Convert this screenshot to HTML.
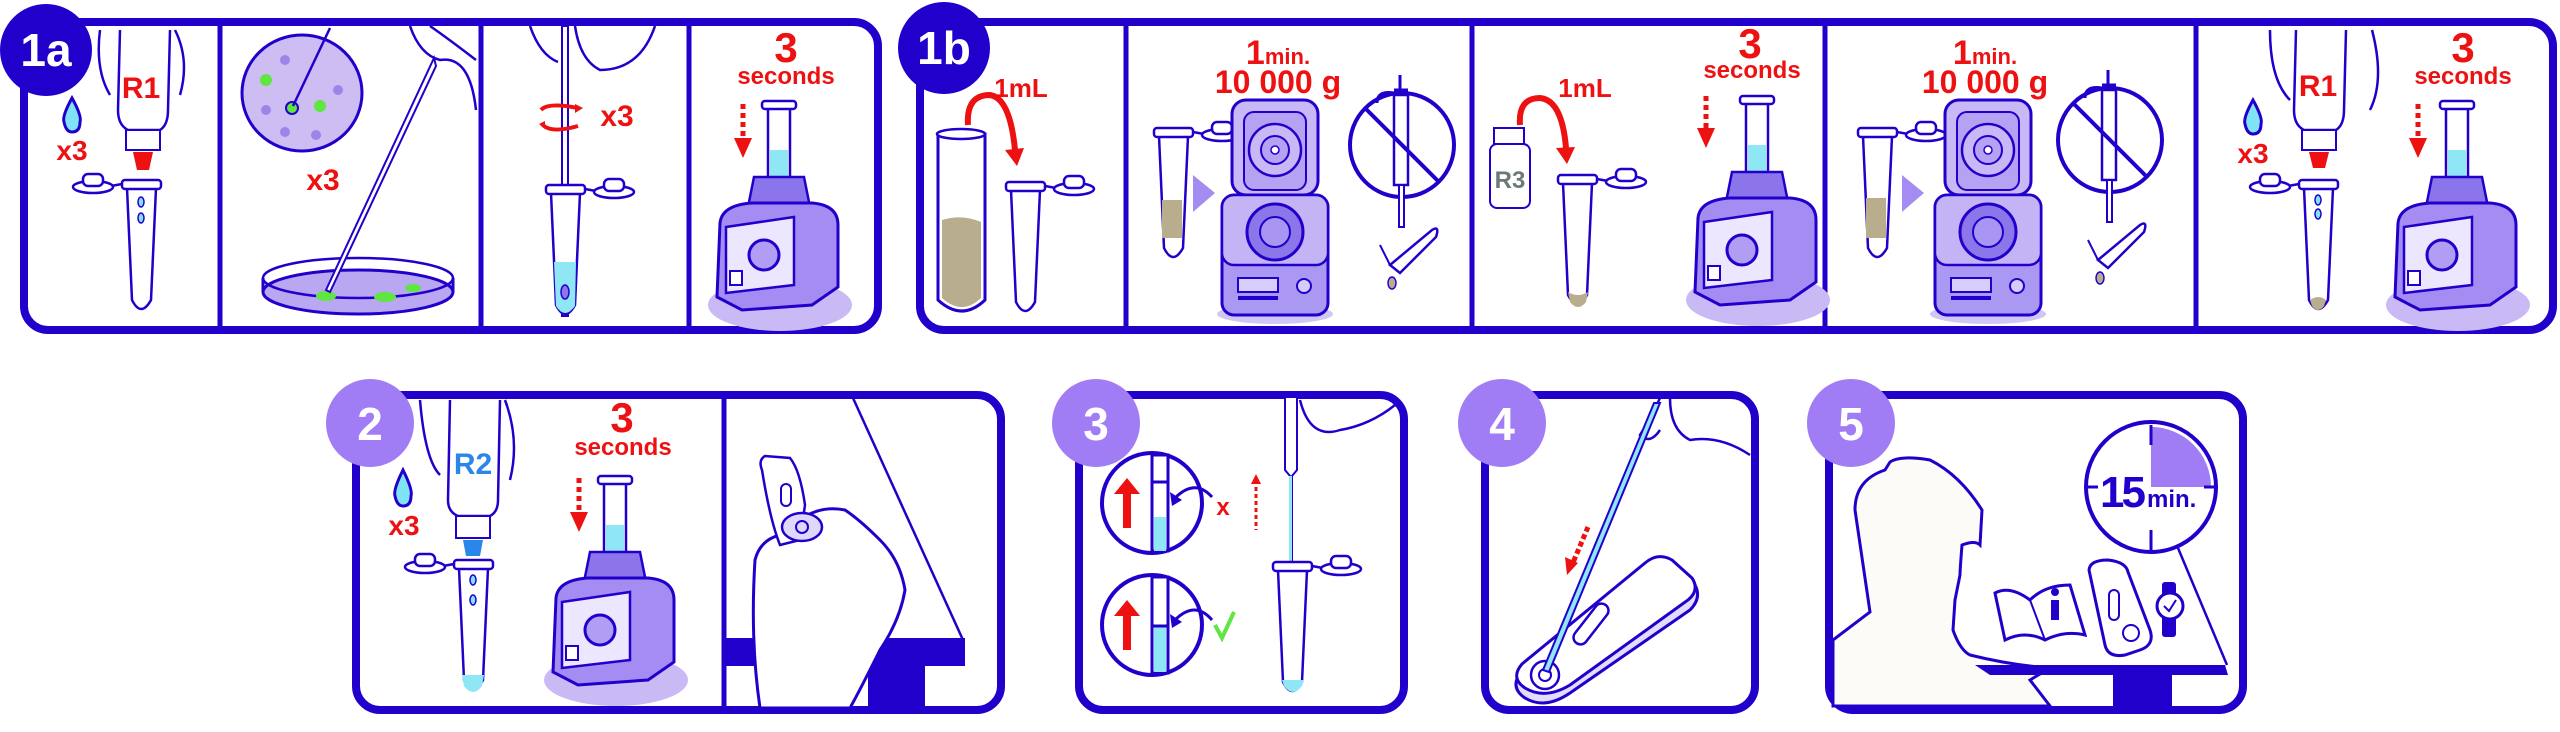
<!DOCTYPE html>
<html><head><meta charset="utf-8"><style>
html,body{margin:0;padding:0;background:#fff;}
svg{display:block;}
text{font-family:"Liberation Sans",sans-serif;font-weight:bold;}
</style></head><body>
<svg width="2560" height="732" viewBox="0 0 2560 732" xmlns="http://www.w3.org/2000/svg">
<defs>
<g id="vortex">
  <ellipse cx="68" cy="200" rx="72" ry="26" fill="#c9baf6"/>
  <rect x="56" y="0" width="22" height="75" fill="#fff" stroke="#2200cc" stroke-width="2.5"/>
  <rect x="50" y="-4" width="34" height="8" rx="3" fill="#fff" stroke="#2200cc" stroke-width="2.5"/>
  <rect x="58" y="45" width="18" height="28" fill="#8fe6f5"/>
  <path d="M42 72 L92 72 L98 102 L36 102 Z" fill="#8c74ea" stroke="#2200cc" stroke-width="2.5"/>
  <path d="M8 118 Q10 100 40 98 L100 98 Q126 100 126 120 L126 182 L100 200 L30 205 L5 192 Z" fill="#a48cf2" stroke="#2200cc" stroke-width="3"/>
  <path d="M14 122 L82 112 L82 180 L14 188 Z" fill="#ece6ff" stroke="#2200cc" stroke-width="2.5"/>
  <circle cx="52" cy="150" r="15" fill="#b19ef4" stroke="#2200cc" stroke-width="3"/>
  <rect x="18" y="166" width="12" height="14" fill="#fff" stroke="#2200cc" stroke-width="2"/>
</g>
<g id="centri">
  <ellipse cx="53" cy="214" rx="58" ry="10" fill="#d2c6f7"/>
  <rect x="10" y="0" width="86" height="95" rx="14" fill="#c8b8f6" stroke="#2200cc" stroke-width="3"/>
  <rect x="22" y="12" width="62" height="78" rx="10" fill="#b5a2f2" stroke="#2200cc" stroke-width="2"/>
  <circle cx="53" cy="50" r="26" fill="#c8b8f6" stroke="#2200cc" stroke-width="2.5"/>
  <circle cx="53" cy="50" r="14" fill="#b5a2f2" stroke="#2200cc" stroke-width="2"/>
  <circle cx="53" cy="50" r="4" fill="#fff" stroke="#2200cc" stroke-width="1.5"/>
  <rect x="0" y="95" width="106" height="120" rx="12" fill="#ab98f3" stroke="#2200cc" stroke-width="3"/>
  <rect x="0" y="95" width="106" height="70" rx="12" fill="#c4b4f6" stroke="#2200cc" stroke-width="2.5"/>
  <circle cx="53" cy="132" r="28" fill="#8d75ea" stroke="#2200cc" stroke-width="3"/>
  <circle cx="53" cy="132" r="15" fill="#a995f2" stroke="#2200cc" stroke-width="2"/>
  <rect x="16" y="178" width="40" height="14" fill="#d7ccfa" stroke="#2200cc" stroke-width="2"/>
  <rect x="16" y="196" width="40" height="4" fill="#2200cc"/>
  <circle cx="82" cy="186" r="7" fill="#d7ccfa" stroke="#2200cc" stroke-width="2"/>
</g>
<g id="tube">
  <path d="M3 8 L32 8 L27 120 Q17 138 8 120 Z" fill="#fff" stroke="#2200cc" stroke-width="2.5"/>
  <rect x="-2" y="0" width="39" height="9" rx="3" fill="#fff" stroke="#2200cc" stroke-width="2.5"/>
  <path d="M37 4 L48 6" stroke="#2200cc" stroke-width="2.5"/>
  <ellipse cx="66" cy="7" rx="20" ry="6" fill="#fff" stroke="#2200cc" stroke-width="2.5"/>
  <rect x="56" y="-6" width="20" height="12" rx="5" fill="#fff" stroke="#2200cc" stroke-width="2.5"/>
</g>
<g id="tubeL">
  <path d="M3 8 L32 8 L27 120 Q17 138 8 120 Z" fill="#fff" stroke="#2200cc" stroke-width="2.5"/>
  <rect x="-2" y="0" width="39" height="9" rx="3" fill="#fff" stroke="#2200cc" stroke-width="2.5"/>
  <path d="M-2 4 L-13 6" stroke="#2200cc" stroke-width="2.5"/>
  <ellipse cx="-31" cy="7" rx="20" ry="6" fill="#fff" stroke="#2200cc" stroke-width="2.5"/>
  <rect x="-41" y="-6" width="20" height="12" rx="5" fill="#fff" stroke="#2200cc" stroke-width="2.5"/>
</g>
<g id="nopip">
  <circle cx="0" cy="0" r="52" fill="#fff" stroke="#2200cc" stroke-width="4"/>
  <rect x="-8" y="-50" width="14" height="90" fill="#fff" stroke="#2200cc" stroke-width="2.5"/>
  <rect x="-3" y="40" width="5" height="42" fill="#fff" stroke="#2200cc" stroke-width="2"/>
  <path d="M-8 -55 L6 -55 M-2 -70 L-2 -55 M-8 -52 Q-25 -55 -25 -42" stroke="#2200cc" stroke-width="3" fill="none"/>
  <line x1="-36" y1="-36" x2="36" y2="36" stroke="#2200cc" stroke-width="4"/>
  <path d="M-12 120 L30 85 Q38 80 34 92 L-2 128 Z" fill="#fff" stroke="#2200cc" stroke-width="2.5"/>
  <path d="M-12 120 L-22 100" stroke="#2200cc" stroke-width="2"/>
  <ellipse cx="-10" cy="138" rx="4" ry="6" fill="#b8ad8c" stroke="#2200cc" stroke-width="1.5"/>
</g>
</defs>

<!-- ================= PANEL 1a ================= -->
<rect x="24" y="22" width="854" height="308" rx="24" fill="#fff" stroke="#2200cc" stroke-width="8"/>
<line x1="220" y1="24" x2="220" y2="330" stroke="#2200cc" stroke-width="5"/>
<line x1="481" y1="24" x2="481" y2="330" stroke="#2200cc" stroke-width="5"/>
<line x1="689" y1="24" x2="689" y2="330" stroke="#2200cc" stroke-width="5"/>
<path d="M120 30 L118 110 Q118 125 128 130 L160 130 Q168 125 168 110 L170 30" fill="#fff" stroke="#2200cc" stroke-width="2.5"/>
<path d="M100 30 Q95 70 110 95 M175 30 Q190 60 180 95" fill="none" stroke="#2200cc" stroke-width="2.5"/>
<rect x="126" y="130" width="34" height="20" fill="#fff" stroke="#2200cc" stroke-width="2"/>
<path d="M133 152 L153 152 L149 170 L137 170 Z" fill="#ee1111"/>
<text x="141" y="98" font-size="30" fill="#ee1111" text-anchor="middle">R1</text>
<path d="M72 98 Q62 116 64 122 Q66 132 72 132 Q80 132 80 122 Q82 116 72 98 Z" fill="#7fe3f5" stroke="#2200cc" stroke-width="3"/>
<text x="72" y="160" font-size="28" fill="#ee1111" text-anchor="middle">x3</text>
<use href="#tubeL" x="124" y="180"/>
<ellipse cx="141" cy="202" rx="3" ry="5" fill="#7fe3f5" stroke="#2200cc" stroke-width="1.5"/>
<ellipse cx="141" cy="218" rx="3" ry="5" fill="#7fe3f5" stroke="#2200cc" stroke-width="1.5"/>
<ellipse cx="302" cy="93" rx="60" ry="58" fill="#cdbdf3" stroke="#2200cc" stroke-width="3"/>
<circle cx="285" cy="60" r="5" fill="#9b85e8"/><circle cx="266" cy="80" r="6" fill="#5fe640"/><circle cx="320" cy="106" r="6" fill="#5fe640"/><circle cx="292" cy="108" r="6" fill="#5fe640" stroke="#2200cc" stroke-width="2"/><circle cx="338" cy="90" r="5" fill="#9b85e8"/><circle cx="266" cy="110" r="5" fill="#9b85e8"/><circle cx="285" cy="132" r="5" fill="#9b85e8"/><circle cx="316" cy="135" r="5" fill="#9b85e8"/>
<line x1="330" y1="28" x2="293" y2="106" stroke="#2200cc" stroke-width="2.5"/>
<text x="323" y="190" font-size="30" fill="#ee1111" text-anchor="middle">x3</text>
<ellipse cx="358" cy="292" rx="95" ry="22" fill="#b9a7f1" stroke="#2200cc" stroke-width="3"/>
<path d="M263 278 L263 292 M453 278 L453 292" stroke="#2200cc" stroke-width="3"/>
<ellipse cx="358" cy="278" rx="95" ry="20" fill="none" stroke="#2200cc" stroke-width="2.5"/>
<ellipse cx="326" cy="296" rx="10" ry="5" fill="#5fe640"/><ellipse cx="385" cy="297" rx="11" ry="5" fill="#5fe640"/><ellipse cx="413" cy="288" rx="8" ry="4" fill="#5fe640"/>
<path d="M434 58 L436 66 L330 292 L326 290 Z" fill="#fff" stroke="#2200cc" stroke-width="2"/>
<path d="M410 26 Q420 55 440 60 Q470 55 476 110 M430 26 Q450 40 476 60" fill="none" stroke="#2200cc" stroke-width="2.5"/>
<rect x="562" y="26" width="6" height="290" fill="#fff" stroke="#2200cc" stroke-width="2"/>
<path d="M530 26 Q540 55 558 62 M575 26 Q580 60 600 70 Q640 70 655 26" fill="none" stroke="#2200cc" stroke-width="2.5"/>
<path d="M541 110 Q548 102 578 108 M578 126 Q550 134 542 124" fill="none" stroke="#ee1111" stroke-width="4"/>
<path d="M575 104 l8 4 l-8 5 z M545 121 l-6 3 l6 5z" fill="#ee1111"/>
<text x="617" y="126" font-size="30" fill="#ee1111" text-anchor="middle">x3</text>
<use href="#tube" x="548" y="185"/>
<path d="M554 262 L576 262 L575 306 Q565 320 556 306 Z" fill="#8fe6f5"/>
<ellipse cx="565" cy="292" rx="4" ry="7" fill="#8d75ea" stroke="#2200cc" stroke-width="1.5"/>
<text x="786" y="62" font-size="42" fill="#ee1111" text-anchor="middle">3</text>
<text x="786" y="84" font-size="24" fill="#ee1111" text-anchor="middle">seconds</text>
<path d="M743 104 L743 140" stroke="#ee1111" stroke-width="5" stroke-dasharray="5 4"/>
<path d="M734 138 L752 138 L743 158 Z" fill="#ee1111"/>
<use href="#vortex" x="712" y="105"/>
<circle cx="46" cy="50" r="46" fill="#2200cc"/>
<text x="46" y="66" font-size="46" fill="#fff" text-anchor="middle">1a</text>

<!-- ================= PANEL 1b ================= -->
<rect x="920" y="22" width="1633" height="308" rx="24" fill="#fff" stroke="#2200cc" stroke-width="8"/>
<line x1="1126" y1="24" x2="1126" y2="330" stroke="#2200cc" stroke-width="5"/>
<line x1="1472" y1="24" x2="1472" y2="330" stroke="#2200cc" stroke-width="5"/>
<line x1="1825" y1="24" x2="1825" y2="330" stroke="#2200cc" stroke-width="5"/>
<line x1="2196" y1="24" x2="2196" y2="330" stroke="#2200cc" stroke-width="5"/>
<circle cx="944" cy="48" r="46" fill="#2200cc"/>
<text x="944" y="64" font-size="46" fill="#fff" text-anchor="middle">1b</text>
<text x="1021" y="97" font-size="26" fill="#ee1111" text-anchor="middle">1mL</text>
<path d="M968 125 Q966 95 990 95 Q1010 98 1015 150" fill="none" stroke="#ee1111" stroke-width="6"/>
<path d="M1005 150 L1024 148 L1017 166 Z" fill="#ee1111"/>
<path d="M938 134 L985 134 L985 300 Q962 322 938 300 Z" fill="#fff" stroke="#2200cc" stroke-width="3"/>
<path d="M942 220 Q962 214 981 222 L981 298 Q962 316 942 298 Z" fill="#b8ad8c"/>
<ellipse cx="961" cy="134" rx="24" ry="5" fill="#fff" stroke="#2200cc" stroke-width="2.5"/>
<use href="#tube" x="1008" y="182"/>
<text x="1278" y="64" font-size="34" fill="#ee1111" text-anchor="middle">1<tspan font-size="22">min.</tspan></text>
<text x="1278" y="93" font-size="32" fill="#ee1111" text-anchor="middle">10 000 g</text>
<use href="#tube" x="1156" y="128"/>
<rect x="1162" y="200" width="20" height="38" fill="#b8ad8c"/>
<path d="M1193 175 L1215 193 L1193 212 Z" fill="#a48cf2"/>
<use href="#centri" x="1222" y="100"/>
<use href="#nopip" x="1402" y="145"/>
<rect x="1494" y="128" width="30" height="16" fill="#fff" stroke="#2200cc" stroke-width="2"/>
<rect x="1490" y="144" width="40" height="64" rx="7" fill="#fff" stroke="#2200cc" stroke-width="2"/>
<text x="1510" y="188" font-size="24" fill="#6b7a74" text-anchor="middle" font-weight="normal">R3</text>
<text x="1585" y="97" font-size="26" fill="#ee1111" text-anchor="middle">1mL</text>
<path d="M1520 125 Q1518 98 1540 98 Q1562 100 1566 148" fill="none" stroke="#ee1111" stroke-width="6"/>
<path d="M1556 148 L1575 147 L1567 164 Z" fill="#ee1111"/>
<use href="#tube" x="1560" y="175"/>
<path d="M1568 292 Q1578 298 1588 292 L1586 302 Q1578 312 1570 302 Z" fill="#b8ad8c"/>
<text x="1750" y="58" font-size="42" fill="#ee1111" text-anchor="middle">3</text>
<text x="1752" y="78" font-size="24" fill="#ee1111" text-anchor="middle">seconds</text>
<path d="M1706 96 L1706 130" stroke="#ee1111" stroke-width="5" stroke-dasharray="5 4"/>
<path d="M1697 128 L1715 128 L1706 148 Z" fill="#ee1111"/>
<use href="#vortex" x="1690" y="100"/>
<text x="1985" y="64" font-size="34" fill="#ee1111" text-anchor="middle">1<tspan font-size="22">min.</tspan></text>
<text x="1985" y="93" font-size="32" fill="#ee1111" text-anchor="middle">10 000 g</text>
<use href="#tube" x="1860" y="128"/>
<rect x="1866" y="198" width="20" height="40" fill="#b8ad8c"/>
<path d="M1902 175 L1924 193 L1902 212 Z" fill="#a48cf2"/>
<use href="#centri" x="1935" y="100"/>
<use href="#nopip" x="2110" y="140"/>
<path d="M2296 30 L2294 110 Q2294 125 2304 130 L2336 130 Q2344 125 2344 110 L2346 30" fill="#fff" stroke="#2200cc" stroke-width="2.5"/>
<path d="M2270 30 Q2270 80 2290 100 M2372 30 Q2385 80 2370 110" fill="none" stroke="#2200cc" stroke-width="2.5"/>
<rect x="2302" y="130" width="34" height="20" fill="#fff" stroke="#2200cc" stroke-width="2"/>
<path d="M2309 152 L2329 152 L2325 168 L2313 168 Z" fill="#ee1111"/>
<text x="2318" y="96" font-size="30" fill="#ee1111" text-anchor="middle">R1</text>
<path d="M2253 100 Q2243 118 2245 124 Q2247 134 2253 134 Q2261 134 2261 124 Q2263 118 2253 100 Z" fill="#7fe3f5" stroke="#2200cc" stroke-width="3"/>
<text x="2253" y="163" font-size="28" fill="#ee1111" text-anchor="middle">x3</text>
<use href="#tubeL" x="2301" y="180"/>
<ellipse cx="2318" cy="200" rx="3" ry="5" fill="#7fe3f5" stroke="#2200cc" stroke-width="1.5"/>
<ellipse cx="2318" cy="214" rx="3" ry="5" fill="#7fe3f5" stroke="#2200cc" stroke-width="1.5"/>
<path d="M2310 300 Q2318 294 2326 300 L2324 306 Q2318 314 2312 306 Z" fill="#b8ad8c"/>
<text x="2463" y="62" font-size="42" fill="#ee1111" text-anchor="middle">3</text>
<text x="2463" y="84" font-size="24" fill="#ee1111" text-anchor="middle">seconds</text>
<path d="M2418 104 L2418 140" stroke="#ee1111" stroke-width="5" stroke-dasharray="5 4"/>
<path d="M2409 138 L2427 138 L2418 158 Z" fill="#ee1111"/>
<use href="#vortex" x="2390" y="105"/>

<!-- ================= PANEL 2 ================= -->
<rect x="356" y="395" width="645" height="315" rx="24" fill="#fff" stroke="#2200cc" stroke-width="8"/>
<line x1="724" y1="397" x2="724" y2="710" stroke="#2200cc" stroke-width="5"/>
<circle cx="370" cy="423" r="44" fill="#a07cf5"/>
<text x="370" y="440" font-size="46" fill="#fff" text-anchor="middle">2</text>
<path d="M450 400 L448 500 Q448 512 458 516 L490 516 Q498 512 498 500 L500 400" fill="#fff" stroke="#2200cc" stroke-width="2.5"/>
<path d="M420 400 Q425 460 440 475 M505 400 Q520 440 510 480" fill="none" stroke="#2200cc" stroke-width="2.5"/>
<rect x="456" y="516" width="34" height="22" fill="#fff" stroke="#2200cc" stroke-width="2"/>
<path d="M463 540 L483 540 L480 556 L466 556 Z" fill="#2a86e8"/>
<text x="473" y="474" font-size="30" fill="#2a86e8" text-anchor="middle">R2</text>
<path d="M403 470 Q393 490 395 496 Q397 506 403 506 Q411 506 411 496 Q413 490 403 470 Z" fill="#7fe3f5" stroke="#2200cc" stroke-width="3"/>
<text x="404" y="535" font-size="28" fill="#ee1111" text-anchor="middle">x3</text>
<use href="#tubeL" x="456" y="560"/>
<ellipse cx="473" cy="580" rx="3" ry="5" fill="#7fe3f5" stroke="#2200cc" stroke-width="1.5"/>
<ellipse cx="473" cy="600" rx="3" ry="5" fill="#7fe3f5" stroke="#2200cc" stroke-width="1.5"/>
<path d="M462 675 L484 675 L482 686 Q473 698 464 686 Z" fill="#8fe6f5"/>
<text x="622" y="432" font-size="42" fill="#ee1111" text-anchor="middle">3</text>
<text x="623" y="455" font-size="24" fill="#ee1111" text-anchor="middle">seconds</text>
<path d="M579 478 L579 514" stroke="#ee1111" stroke-width="5" stroke-dasharray="5 4"/>
<path d="M570 512 L588 512 L579 532 Z" fill="#ee1111"/>
<use href="#vortex" x="548" y="480"/>
<line x1="853" y1="398" x2="963" y2="640" stroke="#2200cc" stroke-width="2.5"/>
<path d="M726 638 L965 638 L965 666 L726 666 Z" fill="#2200cc"/>
<path d="M868 666 L925 666 L925 708 L868 708 Z" fill="#2200cc"/>
<path d="M760 708 Q750 640 755 560 Q760 540 780 535 L800 520 Q820 505 845 510 Q860 520 880 540 Q900 560 905 590 Q900 620 880 650 Q860 690 850 708 Z" fill="#fff" stroke="#2200cc" stroke-width="3"/>
<path d="M762 470 Q758 460 765 456 L790 458 Q800 470 805 505 L800 540 L780 545 Q770 520 762 470 Z" fill="#fff" stroke="#2200cc" stroke-width="2.5"/>
<ellipse cx="802" cy="527" rx="20" ry="14" fill="#e0d8fb" stroke="#2200cc" stroke-width="2.5"/>
<circle cx="802" cy="527" r="6" fill="none" stroke="#2200cc" stroke-width="2"/>
<rect x="781" y="484" width="10" height="22" rx="5" fill="none" stroke="#2200cc" stroke-width="2"/>

<!-- ================= PANEL 3 ================= -->
<rect x="1079" y="395" width="325" height="315" rx="24" fill="#fff" stroke="#2200cc" stroke-width="8"/>
<circle cx="1096" cy="423" r="44" fill="#a07cf5"/>
<text x="1096" y="440" font-size="46" fill="#fff" text-anchor="middle">3</text>
<circle cx="1152" cy="503" r="50" fill="#fff" stroke="#2200cc" stroke-width="4"/>
<rect x="1152" y="455" width="16" height="96" fill="#fff" stroke="#2200cc" stroke-width="3"/>
<rect x="1154" y="517" width="12" height="34" fill="#8fe6f5"/>
<line x1="1152" y1="482" x2="1168" y2="482" stroke="#2200cc" stroke-width="3"/>
<path d="M1127 478 L1140 494 L1131 494 L1131 528 L1123 528 L1123 494 L1114 494 Z" fill="#ee1111"/>
<path d="M1212 497 Q1195 478 1175 498" fill="none" stroke="#2200cc" stroke-width="3"/>
<path d="M1170 492 L1172 506 L1182 500 Z" fill="#2200cc"/>
<text x="1223" y="515" font-size="24" fill="#ee1111" text-anchor="middle">x</text>
<circle cx="1152" cy="625" r="50" fill="#fff" stroke="#2200cc" stroke-width="4"/>
<rect x="1152" y="577" width="16" height="96" fill="#fff" stroke="#2200cc" stroke-width="3"/>
<rect x="1154" y="626" width="12" height="46" fill="#8fe6f5"/>
<line x1="1152" y1="626" x2="1168" y2="626" stroke="#2200cc" stroke-width="3"/>
<path d="M1127 600 L1140 616 L1131 616 L1131 650 L1123 650 L1123 616 L1114 616 Z" fill="#ee1111"/>
<path d="M1212 620 Q1195 600 1175 620" fill="none" stroke="#2200cc" stroke-width="3"/>
<path d="M1170 614 L1172 628 L1182 622 Z" fill="#2200cc"/>
<path d="M1215 625 L1222 638 L1234 612" fill="none" stroke="#5fe640" stroke-width="4"/>
<path d="M1256 480 L1256 530" stroke="#ee1111" stroke-width="3" stroke-dasharray="4 3"/>
<path d="M1251 484 L1261 484 L1256 474 Z" fill="#ee1111"/>
<path d="M1285 398 L1285 470 L1290 476 L1290 670 L1292 670 L1292 476 L1297 470 L1297 398" fill="#fff" stroke="#2200cc" stroke-width="2"/>
<rect x="1289" y="476" width="3" height="110" fill="#8fe6f5"/>
<path d="M1300 400 Q1310 440 1340 430 Q1370 425 1395 405" fill="none" stroke="#2200cc" stroke-width="2.5"/>
<use href="#tube" x="1275" y="562"/>
<path d="M1282 680 L1304 680 L1302 686 Q1293 698 1284 686 Z" fill="#8fe6f5"/>

<!-- ================= PANEL 4 ================= -->
<rect x="1485" y="395" width="270" height="315" rx="24" fill="#fff" stroke="#2200cc" stroke-width="8"/>
<circle cx="1502" cy="423" r="44" fill="#a07cf5"/>
<text x="1502" y="440" font-size="46" fill="#fff" text-anchor="middle">4</text>
<path d="M1660 398 Q1650 420 1640 435 Q1650 445 1660 430 M1670 398 Q1670 430 1690 440 Q1720 435 1750 455" fill="none" stroke="#2200cc" stroke-width="2.5"/>
<path d="M1520 673 L1648 570 Q1662 557 1675 566 L1695 585 Q1702 598 1690 610 L1570 693 Q1545 710 1525 698 Q1510 688 1520 673 Z" fill="#e4dcfc" stroke="#2200cc" stroke-width="3"/>
<path d="M1522 664 L1645 563 Q1658 552 1672 560 L1692 578 Q1700 590 1688 600 L1570 685 Q1545 700 1525 688 Q1510 678 1522 664 Z" fill="#fff" stroke="#2200cc" stroke-width="3"/>
<rect x="1584" y="600" width="14" height="48" rx="7" transform="rotate(38 1591 624)" fill="none" stroke="#2200cc" stroke-width="2.5"/>
<circle cx="1545" cy="675" r="14" fill="#fff" stroke="#2200cc" stroke-width="2.5"/>
<circle cx="1545" cy="675" r="6" fill="#fff" stroke="#2200cc" stroke-width="2"/>
<path d="M1654 403 L1660 403 L1549 672 L1543 670 Z" fill="#8fe6f5" stroke="#2200cc" stroke-width="2"/>
<path d="M1588 527 L1572 565" stroke="#ee1111" stroke-width="5" stroke-dasharray="5 3"/>
<path d="M1565 557 L1578 563 L1567 575 Z" fill="#ee1111"/>

<!-- ================= PANEL 5 ================= -->
<rect x="1829" y="395" width="414" height="315" rx="24" fill="#fff" stroke="#2200cc" stroke-width="8"/>
<path d="M1833 640 L1870 612 L1855 510 Q1855 480 1885 470 L1890 462 Q1900 455 1930 460 Q1960 475 1982 510 L1980 545 Q1975 540 1962 545 Q1960 570 1960 575 L1955 600 L1953 630 Q1960 650 1970 655 Q2010 665 2050 668 L2030 680 L2050 706 L1833 706 Z" fill="#fcfbf7" stroke="#2200cc" stroke-width="3"/>
<path d="M1975 665 L2225 665 L2228 675 L1990 675 Z" fill="#2200cc"/>
<path d="M2113 675 L2172 675 L2172 706 L2113 706 Z" fill="#2200cc"/>
<line x1="2178" y1="548" x2="2227" y2="665" stroke="#2200cc" stroke-width="2.5"/>
<path d="M1995 593 Q2010 585 2030 600 Q2045 585 2070 585 L2085 635 Q2065 630 2045 640 Q2025 630 2005 640 Z" fill="#fff" stroke="#2200cc" stroke-width="3"/>
<line x1="2030" y1="600" x2="2045" y2="640" stroke="#2200cc" stroke-width="2"/>
<circle cx="2055" cy="592" r="4" fill="#2200cc"/>
<rect x="2051" y="600" width="8" height="20" fill="#2200cc"/>
<path d="M2089 570 Q2090 560 2108 560 Q2126 562 2128 572 L2150 630 Q2155 645 2140 650 L2125 655 Q2108 658 2105 645 Z" fill="#fff" stroke="#2200cc" stroke-width="3"/>
<rect x="2109" y="590" width="10" height="30" rx="5" fill="none" stroke="#2200cc" stroke-width="2"/>
<circle cx="2131" cy="633" r="8" fill="none" stroke="#2200cc" stroke-width="2"/>
<rect x="2162" y="582" width="14" height="55" rx="3" fill="#2200cc"/>
<circle cx="2170" cy="606" r="13" fill="#fff" stroke="#2200cc" stroke-width="3"/>
<path d="M2164 606 L2169 611 L2176 600" fill="none" stroke="#2200cc" stroke-width="2"/>
<circle cx="2151" cy="487" r="65" fill="#fff" stroke="#2200cc" stroke-width="4"/>
<path d="M2151 427 L2151 487 L2211 487 A60 60 0 0 0 2151 427 Z" fill="#a07cf5"/>
<line x1="2151" y1="425" x2="2151" y2="445" stroke="#2200cc" stroke-width="3"/>
<line x1="2151" y1="530" x2="2151" y2="550" stroke="#2200cc" stroke-width="3"/>
<line x1="2088" y1="487" x2="2098" y2="487" stroke="#2200cc" stroke-width="3"/>
<line x1="2204" y1="487" x2="2214" y2="487" stroke="#2200cc" stroke-width="3"/>
<text x="2100" y="507" font-size="44" fill="#2200cc" letter-spacing="-3">15</text>
<text x="2147" y="507" font-size="24" fill="#2200cc">min.</text>
<circle cx="1851" cy="423" r="44" fill="#a07cf5"/>
<text x="1851" y="440" font-size="46" fill="#fff" text-anchor="middle">5</text>
</svg>
</body></html>
